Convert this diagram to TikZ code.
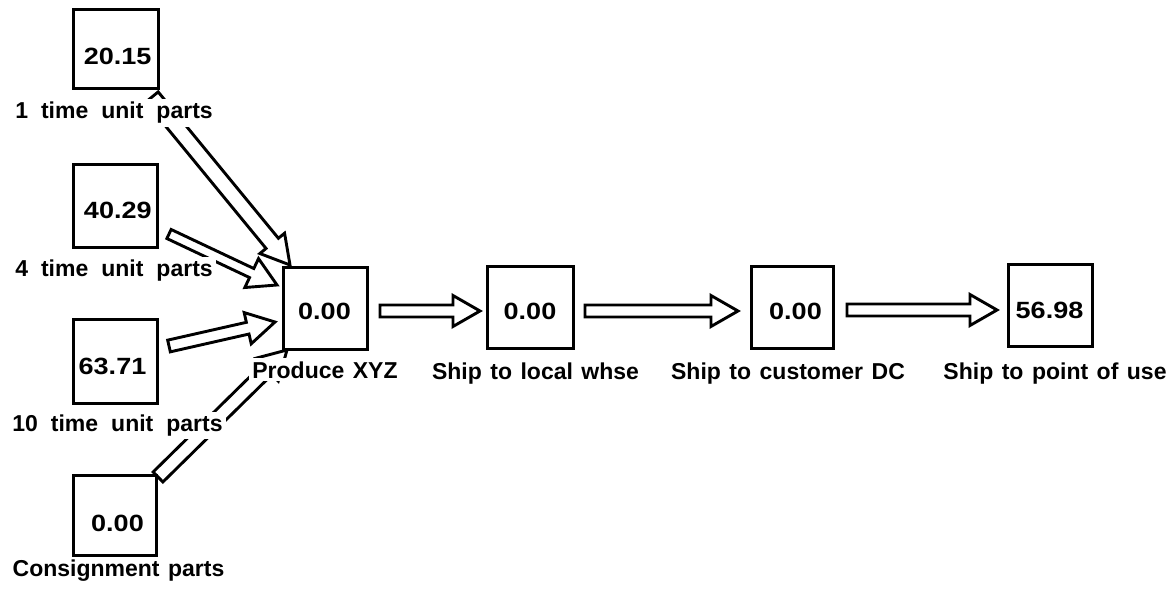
\documentclass[tikz,border=0pt]{standalone}
\usepackage{fontspec}
\setmainfont{Liberation Sans}
\newfontfamily\valuefont{Liberation Sans}[FakeStretch=1.15]
\usetikzlibrary{calc,backgrounds}

% caption type: bold, with widened interword spaces
\newcommand\captiontype{\bfseries\fontsize{23}{28}\selectfont
  \spaceskip=8.5pt plus 1pt minus 1pt\relax}
\newcommand\widecaptiontype{\bfseries\fontsize{23}{28}\selectfont
  \spaceskip=13pt plus 1pt minus 1pt\relax}

% hollow block arrow: #1 tail, #2 tip, #3 half shaft width, #4 half head width, #5 head length
\newcommand\flowarrow[5]{%
  \path (#1) coordinate (fa-tail) (#2) coordinate (fa-tip);
  \path ($(fa-tip)!#5!(fa-tail)$) coordinate (fa-base);
  \draw[flow] ($(fa-tail)!#3!90:(fa-tip)$) -- ($(fa-base)!#3!90:(fa-tip)$)
    -- ($(fa-base)!#4!90:(fa-tip)$) -- (fa-tip) -- ($(fa-base)!#4!-90:(fa-tip)$)
    -- ($(fa-base)!#3!-90:(fa-tip)$) -- ($(fa-tail)!#3!-90:(fa-tip)$) -- cycle;
}

\begin{document}
\begin{tikzpicture}[x=1pt,y=-1pt,
  stock/.style={draw=black, line width=3pt, fill=white, minimum width=84pt,
    minimum height=82pt, inner sep=0pt, outer sep=0pt},
  flow/.style={draw=black, line width=2.9pt, fill=white, line join=miter},
  lbl/.style={fill=white, inner sep=3pt, anchor=base, font=\captiontype},
  widelbl/.style={lbl, font=\widecaptiontype},
  val/.style={inner sep=0pt, font=\valuefont\bfseries\fontsize{23.5}{28}\selectfont}]

\useasboundingbox (0,0) rectangle (1175,593);

% stock points
\node[stock, minimum width=85pt, minimum height=79pt] (b1) at (115.5,49.5) {};
\node[stock, minimum height=83pt] (b4) at (115,206.5) {};
\node[stock, minimum height=83pt] (b10) at (115,361.5) {};
\node[stock, minimum width=83pt, minimum height=80pt] (bc) at (114.5,515) {};
\node[stock] (prod) at (325,309) {};
\node[stock, minimum width=86pt] (local) at (530,308) {};
\node[stock, minimum width=82pt] (cust) at (792,308) {};
\node[stock] (point) at (1050,306) {};

% flows
\begin{pgfonlayer}{background}
\flowarrow{$(b1.south east)+(-6,8)$}{$(prod.north west)+(7,-3)$}{8pt}{16pt}{28pt}
\flowarrow{$(b4.south east)+(12,-14)$}{$(prod.west)+(-6,-24)$}{5pt}{16pt}{28pt}
\flowarrow{$(b10.east)+(12,-15.5)$}{$(prod.west)+(-8,13)$}{6pt}{16pt}{28pt}
\flowarrow{$(bc.north east)+(2,2)$}{$(prod.south west)+(4,0)$}{7pt}{16pt}{28pt}
\flowarrow{$(prod.east)+(13,2)$}{$(local.west)+(-7,3)$}{6pt}{15.5pt}{27pt}
\flowarrow{$(local.east)+(12,3)$}{$(cust.west)+(-13,3)$}{6pt}{15.5pt}{27pt}
\flowarrow{$(cust.east)+(14,2)$}{$(point.west)+(-11,4)$}{6pt}{15.5pt}{27pt}
\end{pgfonlayer}

% captions
\node[widelbl] (l1) at (114,119) {1 time unit parts};
\node[widelbl] (l4) at (114,276.5) {4 time unit parts};
\node[widelbl] (l10) at (117.5,431.5) {10 time unit parts};
\node[lbl] (lc) at (118.5,576.5) {Consignment parts};
\node[lbl] (lp) at (325,378) {Produce XYZ};
\node[lbl] (ll) at (535.5,379) {Ship to local whse};
\node[lbl] (lcu) at (788,379) {Ship to customer DC};
\node[lbl] (lpt) at (1055,379) {Ship to point of use};

% stock values
\node[val] (v1) at (117.7,56.5) {20.15};
\node[val] (v4) at (117.8,210.8) {40.29};
\node[val] (v10) at (112.5,366) {63.71};
\node[val] (vc) at (117.5,523.5) {0.00};
\node[val] (vp) at (324.5,311.5) {0.00};
\node[val] (vl) at (530,311.5) {0.00};
\node[val] (vcu) at (795.5,311) {0.00};
\node[val] (vpt) at (1049.5,310) {56.98};
\end{tikzpicture}
\end{document}
